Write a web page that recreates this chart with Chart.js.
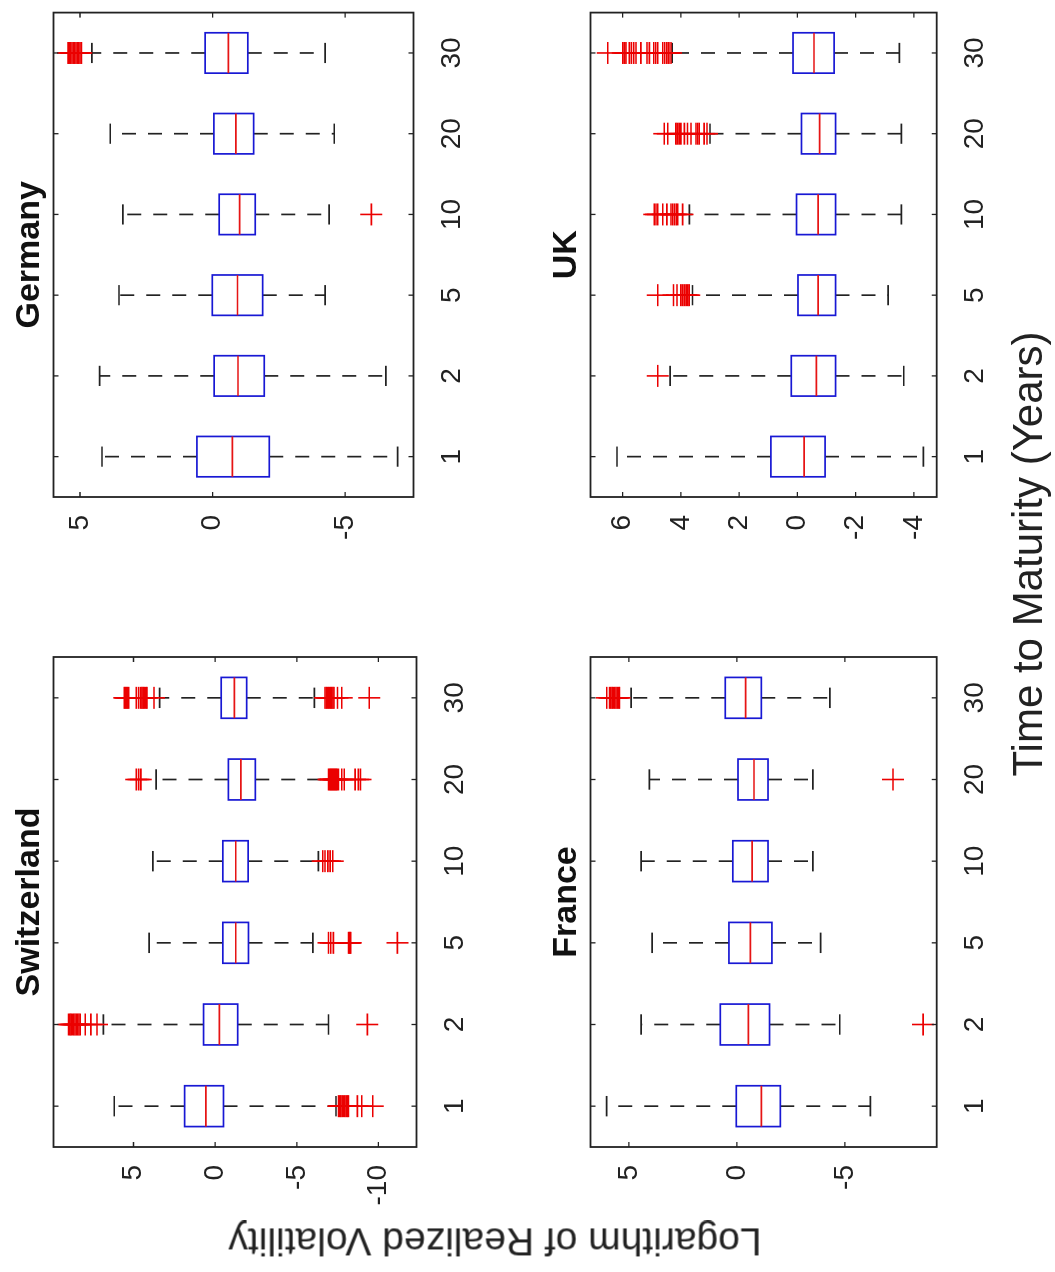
<!DOCTYPE html>
<html>
<head>
<meta charset="utf-8">
<title>Logarithm of Realized Volatility by Time to Maturity</title>
<script src="https://cdn.jsdelivr.net/npm/chart.js@4.4.1/dist/chart.umd.min.js"></script>
<style>
  html, body { margin: 0; padding: 0; width: 1055px; height: 1272px; overflow: hidden; background: #fff; }
  /* The figure is laid out landscape and turned a quarter turn counter-clockwise. */
  #fig {
    position: absolute; left: 0; top: 0; width: 1272px; height: 1055px;
    transform-origin: 0 0; transform: translate(0px, 1272px) rotate(-90deg);
    background: #fff; font-family: "Liberation Sans", Arial, sans-serif; color: #222;
  }
  #fig canvas { position: absolute; }
  .lbl { position: absolute; white-space: nowrap; line-height: 1; }
  #ylab { left: 30px; top: 495px; font-size: 39px; transform: translate(-50%, -50%) rotate(-90deg); }
  #xlab { left: 718px; top: 1028px; font-size: 42px; transform: translate(-50%, -50%); }
</style>
</head>
<body>
<div id="fig">
  <canvas id="chSwiss"></canvas>
  <canvas id="chGermany"></canvas>
  <canvas id="chFrance"></canvas>
  <canvas id="chUK"></canvas>
  <div class="lbl" id="ylab">Logarithm of Realized Volatility</div>
  <div class="lbl" id="xlab">Time to Maturity (Years)</div>
</div>
<script>
// Maturity groups (years)
const maturities = ['1', '2', '5', '10', '20', '30'];

// Switzerland: quartiles, medians, whisker ends, outliers per maturity
const swissQ1 = [-0.51, -1.38, -2.04, -2.02, -2.46, -1.93];
const swissMedian = [0.57, -0.26, -1.26, -1.26, -1.57, -1.18];
const swissQ3 = [1.87, 0.71, -0.47, -0.47, -0.81, -0.37];
const swissWhiskerLow = [-7.4, -6.94, -5.98, -6.32, -7.0, -6.08];
const swissWhiskerHigh = [6.18, 6.84, 4.04, 3.81, 3.61, 3.4];
const swissOutliers = [
  [-7.55, -7.62, -7.7, -7.78, -7.86, -7.94, -8.02, -8.1, -8.16, -8.71, -8.98, -9.65],
  [8.98, 8.9, 8.82, 8.74, 8.66, 8.58, 8.5, 8.42, 8.34, 8.26, 7.96, 7.61, 7.24, -9.32],
  [-6.94, -7.08, -7.24, -8.17, -8.22, -8.26, -8.3, -11.16],
  [-6.59, -6.73, -6.9, -7.04, -7.2],
  [4.83, 4.69, 4.55, -6.94, -7.0, -7.06, -7.12, -7.18, -7.24, -7.3, -7.36, -7.42, -7.48, -7.55, -7.75, -7.91, -8.57, -8.77, -8.9],
  [5.57, 5.5, 5.44, 5.37, 5.3, 4.83, 4.69, 4.55, 4.48, 4.41, 4.34, 4.26, 4.18, 3.75, -6.73, -6.8, -6.87, -6.94, -7.01, -7.08, -7.15, -7.22, -7.28, -7.49, -7.75, -9.44]
];
const swissTicks = [-10, -5, 0, 5];

// Germany
const germanyQ1 = [-2.14, -1.95, -1.89, -1.61, -1.55, -1.33];
const germanyMedian = [-0.75, -0.96, -0.94, -1.02, -0.88, -0.6];
const germanyQ3 = [0.59, -0.06, 0.01, -0.25, -0.05, 0.28];
const germanyWhiskerLow = [-6.98, -6.54, -4.25, -4.4, -4.59, -4.25];
const germanyWhiskerHigh = [4.17, 4.26, 3.53, 3.38, 3.86, 4.55];
const germanyOutliers = [
  [],
  [],
  [],
  [-5.99],
  [],
  [5.45, 5.4, 5.35, 5.3, 5.25, 5.2, 5.15, 5.1, 5.05, 5.0, 4.95]
];
const germanyTicks = [-5, 0, 5];

// France
const franceQ1 = [-2.01, -1.51, -1.62, -1.44, -1.44, -1.13];
const franceMedian = [-1.13, -0.53, -0.62, -0.7, -0.79, -0.4];
const franceQ3 = [0.03, 0.77, 0.37, 0.19, -0.05, 0.54];
const franceWhiskerLow = [-6.18, -4.76, -3.88, -3.52, -3.52, -4.3];
const franceWhiskerHigh = [6.03, 4.44, 3.93, 4.44, 4.05, 4.9];
const franceOutliers = [
  [],
  [-8.62],
  [],
  [],
  [-7.23],
  [6.03, 5.9, 5.84, 5.78, 5.72, 5.66, 5.6, 5.54, 5.48, 5.44]
];
const franceTicks = [-5, 0, 5];

// UK
const ukQ1 = [-0.95, -1.31, -1.31, -1.31, -1.31, -1.26];
const ukMedian = [-0.23, -0.65, -0.71, -0.71, -0.76, -0.57];
const ukQ3 = [0.91, 0.21, -0.02, 0.03, -0.14, 0.15];
const ukWhiskerLow = [-4.32, -3.65, -3.11, -3.57, -3.57, -3.5];
const ukWhiskerHigh = [6.19, 4.37, 3.6, 3.71, 3.0, 4.3];
const ukOutliers = [
  [],
  [4.79],
  [4.79, 4.25, 4.13, 4.0, 3.94, 3.88, 3.82, 3.76, 3.71],
  [4.91, 4.85, 4.79, 4.62, 4.48, 4.34, 4.28, 4.22, 4.16, 4.11, 3.94],
  [4.57, 4.45, 4.17, 4.12, 4.06, 4.0, 3.88, 3.77, 3.65, 3.48, 3.42, 3.37, 3.2, 3.1],
  [6.51, 5.99, 5.93, 5.88, 5.77, 5.7, 5.62, 5.54, 5.37, 5.16, 5.08, 4.93, 4.86, 4.79, 4.62, 4.55, 4.48, 4.41, 4.34]
];
const ukTicks = [-4, -2, 0, 2, 4, 6];

// ---- drawing ----
const FONT = '"Liberation Sans", Arial, sans-serif';
const BOX_BLUE = 'rgb(24,24,212)';
const MEDIAN_RED = 'rgb(230,20,20)';
const OUTLIER_RED = 'rgb(235,0,0)';
const INK = '#222';

// Boxes, whiskers and medians, placed with the chart's own scales.
const boxPlotPlugin = {
  id: 'boxplot',
  beforeDatasetsDraw(chart, args, opts) {
    const { ctx, chartArea: a, scales: { x, y } } = chart;
    const s = opts.stats;
    if (!s) return;
    const seg = (x1, y1, x2, y2) => { ctx.beginPath(); ctx.moveTo(x1, y1); ctx.lineTo(x2, y2); ctx.stroke(); };
    ctx.save();
    ctx.beginPath();
    ctx.rect(a.left, a.top, a.right - a.left, a.bottom - a.top);
    ctx.clip();
    ctx.lineWidth = 1.7;
    s.median.forEach((m, i) => {
      const c = i + 1;
      const xc = x.getPixelForValue(c);
      const xl = x.getPixelForValue(c - 0.25), xr = x.getPixelForValue(c + 0.25);
      const cl = x.getPixelForValue(c - 0.125), cr = x.getPixelForValue(c + 0.125);
      const yQ3 = y.getPixelForValue(s.q3[i]), yQ1 = y.getPixelForValue(s.q1[i]);
      const yHi = y.getPixelForValue(s.hi[i]), yLo = y.getPixelForValue(s.lo[i]);
      const yMed = y.getPixelForValue(m);
      // dashed whiskers
      ctx.strokeStyle = INK;
      ctx.setLineDash([14, 12]);
      seg(xc, yQ3, xc, yHi);
      seg(xc, yQ1, xc, yLo);
      ctx.setLineDash([]);
      seg(cl, yHi, cr, yHi);
      seg(cl, yLo, cr, yLo);
      // box
      ctx.strokeStyle = BOX_BLUE;
      ctx.strokeRect(xl, yQ3, xr - xl, yQ1 - yQ3);
      // median
      ctx.strokeStyle = MEDIAN_RED;
      seg(xl, yMed, xr, yMed);
    });
    ctx.restore();
  },
  afterDraw(chart) {
    const { ctx, chartArea: a, scales: { x, y } } = chart;
    const TL = 5;
    ctx.save();
    ctx.strokeStyle = INK;
    ctx.lineWidth = 1.8;
    ctx.strokeRect(a.left, a.top, a.right - a.left, a.bottom - a.top);
    ctx.lineWidth = 1.3;
    ctx.beginPath();
    x.ticks.forEach(t => {
      const px = x.getPixelForValue(t.value);
      ctx.moveTo(px, a.bottom); ctx.lineTo(px, a.bottom - TL);
      ctx.moveTo(px, a.top); ctx.lineTo(px, a.top + TL);
    });
    y.ticks.forEach(t => {
      const py = y.getPixelForValue(t.value);
      ctx.moveTo(a.left, py); ctx.lineTo(a.left + TL, py);
      ctx.moveTo(a.right, py); ctx.lineTo(a.right - TL, py);
    });
    ctx.stroke();
    ctx.restore();
  }
};

function makePanel(id, cfg) {
  const cv = document.getElementById(id);
  cv.width = cfg.canvas.w;
  cv.height = cfg.canvas.h;
  cv.style.left = cfg.canvas.x + 'px';
  cv.style.top = cfg.canvas.y + 'px';
  const points = cfg.outliers.flatMap((arr, i) => arr.map(v => ({ x: i + 1, y: v })));
  return new Chart(cv, {
    type: 'scatter',
    data: {
      datasets: [{
        data: points,
        pointStyle: 'cross',
        pointRadius: 11,
        pointHoverRadius: 11,
        borderColor: OUTLIER_RED,
        backgroundColor: OUTLIER_RED,
        pointBorderWidth: 1.6,
        borderWidth: 1.6
      }]
    },
    options: {
      responsive: false,
      animation: false,
      events: [],
      layout: { padding: { left: 0, right: cfg.padRight, top: 0, bottom: 0 } },
      plugins: {
        legend: { display: false },
        tooltip: { enabled: false },
        title: {
          display: true,
          fullSize: false,
          text: cfg.title,
          color: '#111',
          font: { family: FONT, size: 34, weight: 'bold', lineHeight: 1.2 },
          padding: { top: cfg.titleTop, bottom: cfg.titleBottom }
        },
        boxplot: {
          stats: { q1: cfg.q1, median: cfg.median, q3: cfg.q3, lo: cfg.lo, hi: cfg.hi }
        }
      },
      scales: {
        x: {
          type: 'linear',
          min: 0.5,
          max: 6.5,
          grid: { display: false, drawTicks: false },
          border: { display: false },
          afterBuildTicks: s => { s.ticks = maturities.map((_, i) => ({ value: i + 1 })); },
          afterFit: s => { s.height = cfg.xAxisH; },
          ticks: {
            autoSkip: false, maxRotation: 0, minRotation: 0,
            padding: 22,
            color: INK,
            font: { family: FONT, size: 28 },
            callback: v => maturities[v - 1]
          }
        },
        y: {
          type: 'linear',
          min: cfg.yMin,
          max: cfg.yMax,
          grid: { display: false, drawTicks: false },
          border: { display: false },
          afterBuildTicks: s => { s.ticks = cfg.ticks.map(v => ({ value: v })); },
          afterFit: s => { s.width = cfg.yAxisW; },
          ticks: {
            padding: 18,
            color: INK,
            font: { family: FONT, size: 28 },
            callback: v => String(v)
          }
        }
      }
    },
    plugins: [boxPlotPlugin]
  });
}

makePanel('chSwiss', {
  title: 'Switzerland',
  canvas: { x: 0, y: 0, w: 636, h: 537 },
  yAxisW: 125, padRight: 21, xAxisH: 120.5, titleTop: 9.5, titleBottom: 3.2,
  yMin: -12.33, yMax: 9.9, ticks: swissTicks,
  q1: swissQ1, median: swissMedian, q3: swissQ3, lo: swissWhiskerLow, hi: swissWhiskerHigh,
  outliers: swissOutliers
});

makePanel('chGermany', {
  title: 'Germany',
  canvas: { x: 636, y: 0, w: 636, h: 537 },
  yAxisW: 139, padRight: 5, xAxisH: 123.5, titleTop: 9.5, titleBottom: 3.2,
  yMin: -7.58, yMax: 6.0, ticks: germanyTicks,
  q1: germanyQ1, median: germanyMedian, q3: germanyQ3, lo: germanyWhiskerLow, hi: germanyWhiskerHigh,
  outliers: germanyOutliers
});

makePanel('chFrance', {
  title: 'France',
  canvas: { x: 0, y: 537, w: 636, h: 518 },
  yAxisW: 125, padRight: 21, xAxisH: 118.3, titleTop: 9.5, titleBottom: 3.2,
  yMin: -9.25, yMax: 6.78, ticks: franceTicks,
  q1: franceQ1, median: franceMedian, q3: franceQ3, lo: franceWhiskerLow, hi: franceWhiskerHigh,
  outliers: franceOutliers
});

makePanel('chUK', {
  title: 'UK',
  canvas: { x: 636, y: 537, w: 636, h: 518 },
  yAxisW: 139, padRight: 5, xAxisH: 118.3, titleTop: 9.5, titleBottom: 3.2,
  yMin: -4.78, yMax: 7.1, ticks: ukTicks,
  q1: ukQ1, median: ukMedian, q3: ukQ3, lo: ukWhiskerLow, hi: ukWhiskerHigh,
  outliers: ukOutliers
});
</script>
</body>
</html>
